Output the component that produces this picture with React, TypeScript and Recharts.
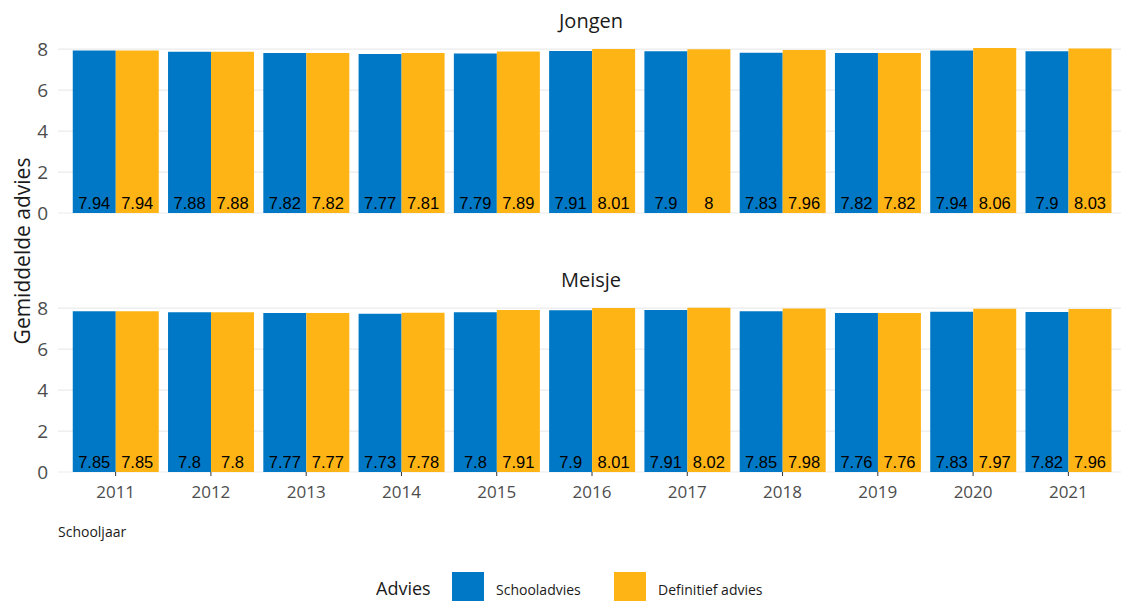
import { Bar, BarChart, CartesianGrid, LabelList, XAxis, YAxis } from 'recharts';

const years = ['2011', '2012', '2013', '2014', '2015', '2016', '2017', '2018', '2019', '2020', '2021'];
const jongenSchool = [7.94, 7.88, 7.82, 7.77, 7.79, 7.91, 7.9, 7.83, 7.82, 7.94, 7.9];
const jongenDefinitief = [7.94, 7.88, 7.82, 7.81, 7.89, 8.01, 8, 7.96, 7.82, 8.06, 8.03];
const meisjeSchool = [7.85, 7.8, 7.77, 7.73, 7.8, 7.9, 7.91, 7.85, 7.76, 7.83, 7.82];
const meisjeDefinitief = [7.85, 7.8, 7.77, 7.78, 7.91, 8.01, 8.02, 7.98, 7.76, 7.97, 7.96];
const yTicks = [0, 2, 4, 6, 8];
const seriesNames = ['Schooladvies', 'Definitief advies'];

const BLUE = '#0178c6';
const YELLOW = '#feb415';
const FONT = '"Open Sans", "Noto Sans", sans-serif';

const build = (school: number[], def: number[]) =>
  years.map((jaar, i) => ({ jaar, school: school[i], definitief: def[i] }));

const jongenData = build(jongenSchool, jongenDefinitief);
const meisjeData = build(meisjeSchool, meisjeDefinitief);

// value printed at the foot of each bar
const BottomLabel = (props: any) => {
  const { x, y, width, height, value } = props;
  return (
    <text
      x={x + width / 2}
      y={y + height - 4}
      textAnchor="middle"
      fontSize={16.5}
      fontFamily='"Liberation Sans", Arial, sans-serif'
      fill="#000"
    >
      {value}
    </text>
  );
};

function Panel({ data, showX }: { data: any[]; showX: boolean }) {
  return (
    <BarChart
      width={1121}
      height={showX ? 253 : 225}
      data={data}
      margin={{ top: 41, right: 0, left: 0, bottom: showX ? 0 : 12 }}
      barCategoryGap="5%"
      barGap={0}
    >
      <CartesianGrid vertical={false} horizontalValues={yTicks} stroke="#ebebeb" strokeWidth={1.2} />
      <XAxis
        dataKey="jaar"
        hide={!showX}
        height={40}
        padding={{ left: 10, right: 5 }}
        axisLine={false}
        tickSize={4}
        tickMargin={10}
        tickLine={{ stroke: '#333' }}
        tick={{ fontSize: 17, fill: '#4d4d4d', fontFamily: FONT }}
        interval={0}
      />
      <YAxis
        width={58}
        domain={[0, 8.4]}
        ticks={yTicks}
        interval={0}
        axisLine={false}
        tickLine={false}
        tickMargin={4}
        tick={{ fontSize: 19, fill: '#4d4d4d', fontFamily: FONT }}
      />
      <Bar dataKey="school" fill={BLUE} isAnimationActive={false}>
        <LabelList dataKey="school" content={BottomLabel} />
      </Bar>
      <Bar dataKey="definitief" fill={YELLOW} isAnimationActive={false}>
        <LabelList dataKey="definitief" content={BottomLabel} />
      </Bar>
    </BarChart>
  );
}

export default function App() {
  return (
    <div style={{ position: 'absolute', left: 0, top: 0, width: 1121, height: 601, background: '#fff' }}>
      <div style={{ position: 'absolute', left: 0, top: 0 }}>
        <Panel data={jongenData} showX={false} />
      </div>
      <div style={{ position: 'absolute', left: 0, top: 259 }}>
        <Panel data={meisjeData} showX={true} />
      </div>
      <svg
        width={1121}
        height={601}
        style={{ position: 'absolute', left: 0, top: 0, pointerEvents: 'none' }}
        fontFamily={FONT}
      >
        <text x={591} y={28} textAnchor="middle" fontSize={20} fill="#1a1a1a">Jongen</text>
        <text x={591} y={287} textAnchor="middle" fontSize={20} fill="#1a1a1a">Meisje</text>
        <text
          x={0}
          y={0}
          transform="translate(30 251) rotate(-90)"
          textAnchor="middle"
          fontSize={21}
          fill="#1a1a1a"
        >
          Gemiddelde advies
        </text>
        <text x={58} y={537} fontSize={14} fill="#1a1a1a">Schooljaar</text>
        <text x={376} y={595} fontSize={18} fill="#1a1a1a">Advies</text>
        <rect x={452} y={572} width={32} height={32} fill={BLUE} />
        <text x={496} y={595} fontSize={14} fill="#1a1a1a">{seriesNames[0]}</text>
        <rect x={614} y={572} width={32} height={32} fill={YELLOW} />
        <text x={658} y={595} fontSize={14} fill="#1a1a1a">{seriesNames[1]}</text>
      </svg>
    </div>
  );
}
